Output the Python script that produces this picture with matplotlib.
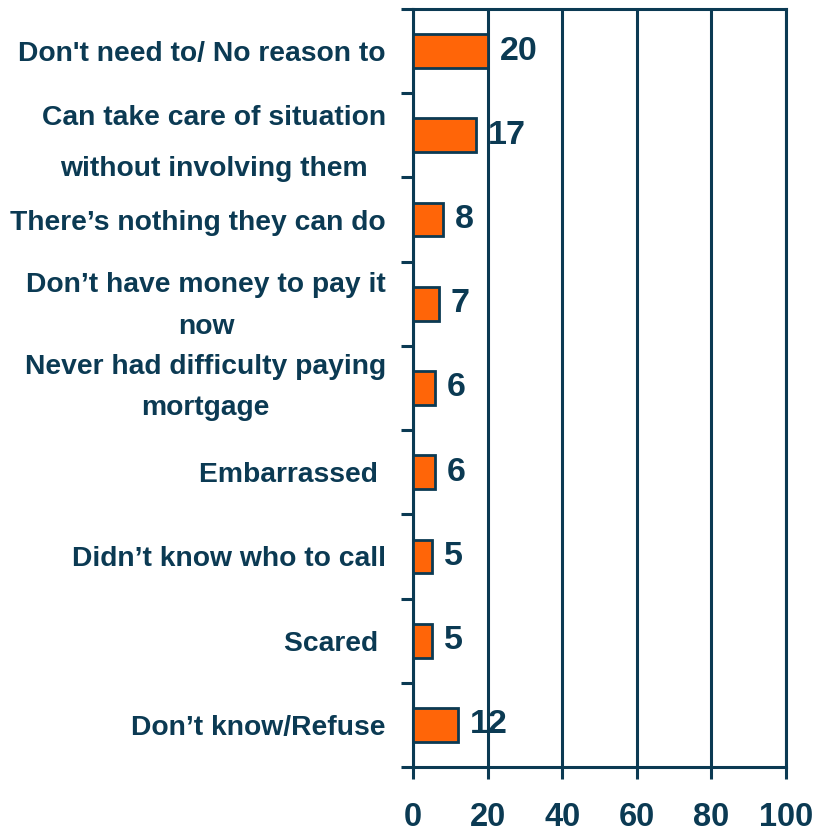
import matplotlib
matplotlib.use("Agg")
import matplotlib.pyplot as plt
from matplotlib.transforms import ScaledTranslation
import numpy as np

categories = [
    "Don't need to/ No reason to",
    "Can take care of situation\nwithout involving them",
    "There\u2019s nothing they can do",
    "Don\u2019t have money to pay it\nnow",
    "Never had difficulty paying\nmortgage",
    "Embarrassed ",
    "Didn\u2019t know who to call",
    "Scared ",
    "Don\u2019t know/Refuse",
]
values = [20, 17, 8, 7, 6, 6, 5, 5, 12]
xticks = [0, 20, 40, 60, 80, 100]

navy = "#0b3a53"
orange = "#FF6508"
regular = ["Liberation Sans", "DejaVu Sans"]

W, H = 819, 832
fig = plt.figure(figsize=(W / 100, H / 100), dpi=100)
ax = fig.add_axes([413 / W, 1 - 767 / H, (786 - 413) / W, (767 - 9) / H])

y = np.arange(len(categories))
ax.set_axisbelow(True)
ax.barh(y, values, height=0.4, color=orange, edgecolor=navy, linewidth=2, zorder=3)

ax.set_xlim(0, 100)
ax.set_ylim(len(categories) - 0.5, -0.5)
ax.set_xticks(xticks)
ax.set_xticklabels([str(t) for t in xticks], fontfamily=regular, fontweight="bold",
                   fontsize=23.5, color=navy)
ax.xaxis.grid(True, color=navy, linewidth=2.2)
ax.tick_params(axis="x", length=8.6, width=2.2, color=navy, pad=16.5, direction="out")

ax.set_yticks(y)
ax.set_yticks(np.arange(len(categories) + 1) - 0.5, minor=True)
ax.set_yticklabels(categories, fontfamily=regular, fontweight="bold", fontsize=20.3,
                   color=navy, ha="right", multialignment="center")
ax.tick_params(axis="y", which="major", length=0, pad=19.5)
ax.tick_params(axis="y", which="minor", length=8.6, width=2.2, color=navy, direction="out")
spacings = [1.2, 2.25, 1.2, 1.8, 1.75, 1.2, 1.2, 1.2, 1.2]
shift_up_px = [0, 7, 0, 9, 11, 0, 0, 0, 0]
for lab, ls, dy in zip(ax.get_yticklabels(), spacings, shift_up_px):
    lab.set_linespacing(ls)
    if dy:
        lab.set_transform(lab.get_transform() + ScaledTranslation(0, dy / 100, fig.dpi_scale_trans))

for s in ax.spines.values():
    s.set_color(navy)
    s.set_linewidth(2.2)

for yi, v in zip(y, values):
    ax.annotate(str(v), xy=(v, yi), xytext=(8.5, 0), textcoords="offset points",
                ha="left", va="center", fontfamily=regular, fontweight="bold",
                fontsize=24.5, color=navy, zorder=4)

fig.savefig("out.png", dpi=100)
